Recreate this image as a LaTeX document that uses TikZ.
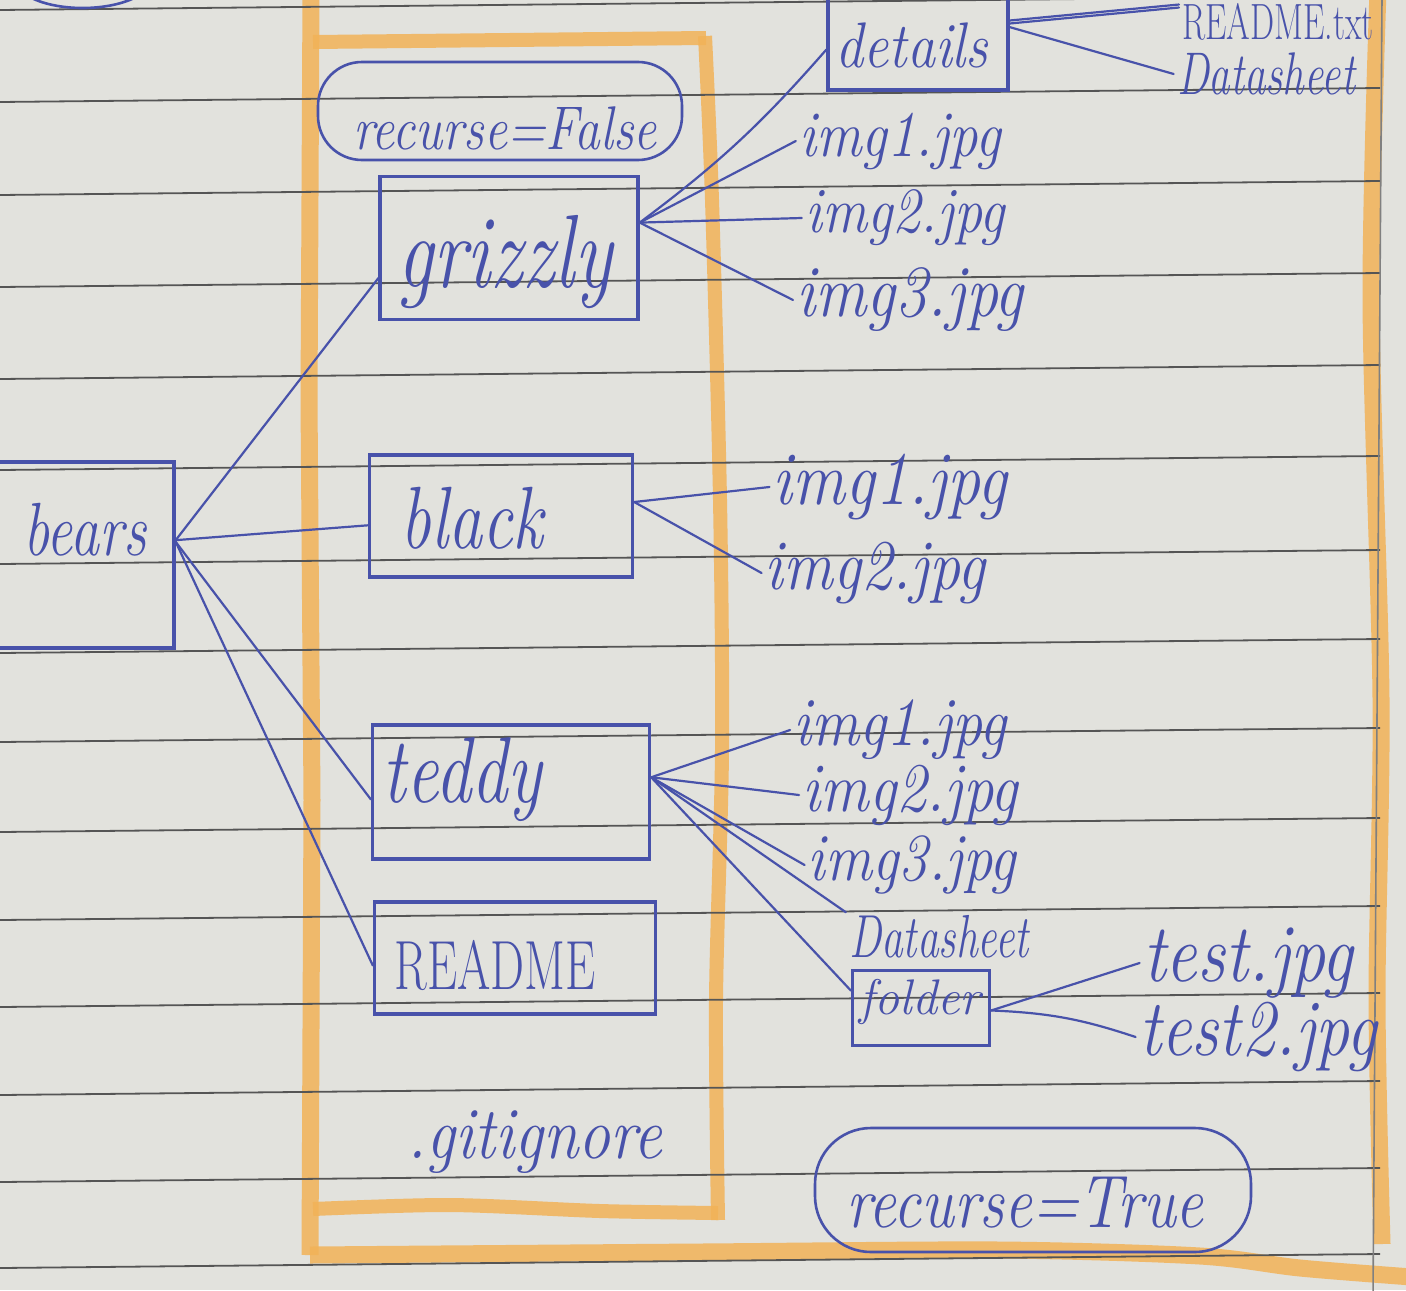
\documentclass[tikz,border=0pt]{standalone}
\usepackage{graphicx}
\definecolor{paper}{RGB}{226,226,221}
\definecolor{ink}{RGB}{72,82,170}
\definecolor{rule}{RGB}{85,85,85}
\definecolor{marker}{RGB}{242,178,88}
\newcommand\fsz[1]{\fontsize{#1}{#1}\selectfont}
\newcommand\tall[2]{\scalebox{1}[#1]{#2}}
\begin{document}
\begin{tikzpicture}[x=0.5pt,y=-0.5pt,
  pen/.style={draw=ink,line width=1.7pt},
  box/.style={pen,rectangle,inner sep=0pt},
  pill/.style={draw=ink,line width=1.3pt,rectangle,inner sep=0pt},
  wire/.style={draw=ink,line width=1.1pt,line cap=round},
  hand/.style={text=ink,inner sep=1.5pt},
  ruled/.style={draw=rule,line width=0.9pt},
  hl/.style={draw=marker,line width=8.5pt,opacity=0.85},
  hlthin/.style={draw=marker,line width=7pt,opacity=0.85},
]
\useasboundingbox (0,0) rectangle (1406,1290);
\clip (0,0) rectangle (1406,1290);
\fill[paper] (0,0) rectangle (1406,1290);

% highlighter frames
\draw[hl] (311,-10) -- (309,400) -- (312,800) -- (310,1255);
\draw[hl] plot[smooth] coordinates {(310,1255) (700,1252) (1000,1250) (1200,1256) (1300,1268) (1412,1277)};
\draw[hl] plot[smooth] coordinates {(1378,-10) (1371,300) (1381,700) (1377,1000) (1382,1244)};
\draw[hlthin] (313,42) -- (706,38);
\draw[hlthin] plot[smooth] coordinates {(705,36) (712,200) (720,500) (722,750) (716,1000) (718,1220)};
\draw[hlthin] plot[smooth] coordinates {(718,1213) (600,1211) (450,1205) (313,1209)};

% ruled paper
\foreach \m in {-2,90,183,275,367,458,552,641,730,820,908,995,1083,1170,1256}
  \draw[ruled] (0,{\m+12}) -- (1380,{\m-2});
\draw[draw=gray,line width=0.8pt] (1382,-5) -- (1373,1295);

% partial oval at the top edge
\draw[draw=ink,line width=1.3pt] (28,-4) .. controls (55,12) and (110,12) .. (138,-4);

% folder boxes
\node[box,minimum width=92pt,minimum height=93pt] (bears) at (82,555) {};
\node[box,minimum width=129pt,minimum height=71.5pt] (grizzly) at (509,248) {};
\node[box,minimum width=131.5pt,minimum height=61pt] (black) at (501,516) {};
\node[box,minimum width=138.5pt,minimum height=67pt] (teddy) at (511,792) {};
\node[box,minimum width=140.5pt,minimum height=56pt] (readme) at (515,958) {};
\node[box,minimum width=90pt,minimum height=50pt] (details) at (918,40) {};
\node[box,minimum width=68.5pt,minimum height=37.5pt] (folder) at (921,1008) {};
\node[pill,rounded corners=22pt,minimum width=182pt,minimum height=49pt] (falsepill) at (500,111) {};
\node[pill,rounded corners=28pt,minimum width=218pt,minimum height=62pt] (truepill) at (1033,1190) {};

% labels
\node[hand,font=\itshape\fsz{29}] (bearsT) at (85,530) {\tall{1.3}{bears}};
\node[hand,font=\itshape\fsz{40}] (grizzlyT) at (505,262) {\tall{1.3}{grizzly}};
\node[hand,font=\itshape\fsz{34}] (blackT) at (472,518) {\tall{1.3}{black}};
\node[hand,font=\itshape\fsz{36}] (teddyT) at (462,780) {\tall{1.3}{teddy}};
\node[hand,font=\fsz{24}] (readmeT) at (495,965) {\tall{1.45}{README}};
\node[hand,font=\itshape\fsz{32}] (gitT) at (535,1142) {\tall{1.15}{.gitignore}};
\node[hand,font=\itshape\fsz{25.7}] (falseT) at (505,128) {\tall{1.2}{recurse=False}};
\node[hand,font=\itshape\fsz{31}] (trueT) at (1025,1203) {\tall{1.2}{recurse=True}};
\node[hand,font=\itshape\fsz{28}] (detailsT) at (912,45) {\tall{1.15}{details}};
\node[hand,font=\fsz{17}] (readmetxt) at (1278,22) {\tall{1.5}{README.txt}};
\node[hand,font=\itshape\fsz{21.5}] (ds1) at (1266,74) {\tall{1.4}{Datasheet}};
\node[hand,font=\itshape\fsz{28.4}] (g1) at (900,141) {\tall{1.15}{img1.jpg}};
\node[hand,font=\itshape\fsz{28.1}] (g2) at (905,218) {\tall{1.15}{img2.jpg}};
\node[hand,font=\itshape\fsz{32}] (g3) at (910,300) {\tall{1.15}{img3.jpg}};
\node[hand,font=\itshape\fsz{33}] (b1) at (890,487) {\tall{1.15}{img1.jpg}};
\node[hand,font=\itshape\fsz{31}] (b2) at (875,573) {\tall{1.15}{img2.jpg}};
\node[hand,font=\itshape\fsz{30}] (t1) at (900,730) {\tall{1.15}{img1.jpg}};
\node[hand,font=\itshape\fsz{30.3}] (t2) at (910,795) {\tall{1.15}{img2.jpg}};
\node[hand,font=\itshape\fsz{29.3}] (t3) at (912,865) {\tall{1.15}{img3.jpg}};
\node[hand,font=\itshape\fsz{21.7}] (ds2) at (939,937) {\tall{1.4}{Datasheet}};
\node[hand,font=\itshape\fsz{25}] (folderT) at (920,1002) {folder};
\node[hand,font=\itshape\fsz{35}] (test1) at (1248,963) {\tall{1.18}{test.jpg}};
\node[hand,font=\itshape\fsz{34}] (test2) at (1258,1037) {\tall{1.18}{test2.jpg}};

% connectors
\draw[wire] (bears.9) -- (grizzly.193);
\draw[wire] (bears.9) -- (black.184);
\draw[wire] (bears.8) -- (teddy.183);
\draw[wire] (bears.8) -- (readme.183);
\draw[wire] (grizzly.11) to[bend right=6] (details.186);
\draw[wire] (grizzly.11) -- (g1.west);
\draw[wire] (grizzly.11) -- (g2.west);
\draw[wire] (grizzly.11) -- (g3.west);
\draw[wire] (details.12) -- (readmetxt.170);
\draw[wire] ([yshift=-1.5pt]details.12) -- ([yshift=-1.5pt]readmetxt.170);
\draw[wire] (details.8) -- (ds1.west);
\draw[wire] (black.6) -- (b1.west);
\draw[wire] (black.6) -- (b2.west);
\draw[wire] (teddy.6) -- (t1.west);
\draw[wire] (teddy.6) -- (t2.west);
\draw[wire] (teddy.6) -- (t3.west);
\draw[wire] (teddy.6) -- (ds2.north west);
\draw[wire] (teddy.6) -- (folder.166);
\draw[wire] (folder.-2) -- (test1.west);
\draw[wire] (folder.-2) to[bend left=8] (test2.west);
\end{tikzpicture}
\end{document}
